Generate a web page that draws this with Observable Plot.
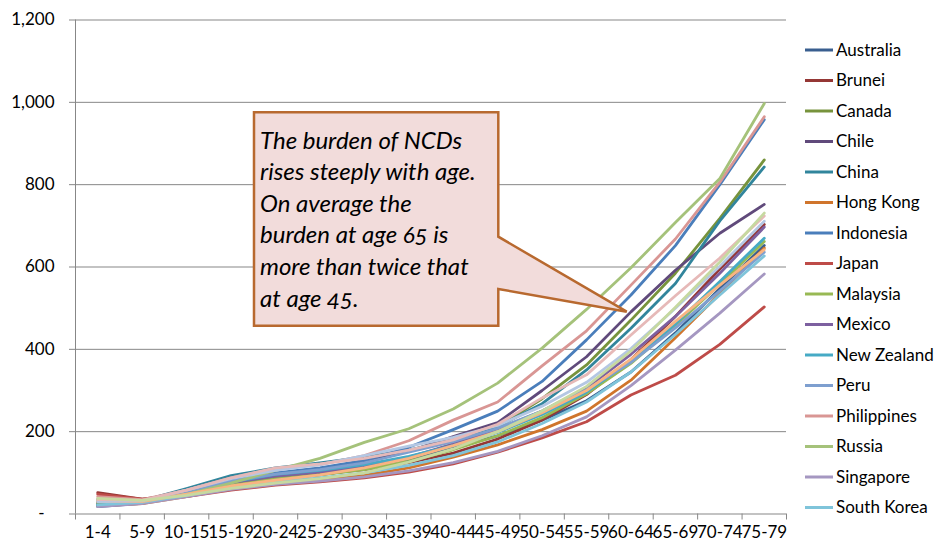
<!DOCTYPE html>
<html><head><meta charset="utf-8">
<script src="https://cdn.jsdelivr.net/npm/d3@7"></script>
<script src="https://cdn.jsdelivr.net/npm/@observablehq/plot@0.6"></script>
<style>body{margin:0;background:#fff;} svg{display:block}</style>
</head><body><div id="chart"></div>
<script>
const ageGroups = ["1-4","5-9","10-15","15-19","20-24","25-29","30-34","35-39","40-44","45-49","50-54","55-59","60-64","65-69","70-74","75-79"];
const countries = ["Australia","Brunei","Canada","Chile","China","Hong Kong","Indonesia","Japan","Malaysia","Mexico","New Zealand","Peru","Philippines","Russia","Singapore","South Korea","Taiwan","Thailand","United States","Vietnam"];
const legendCount = 16;
const colors = ["#395E8F","#953735","#77933C","#604A7B","#31859C","#D0752C","#4A7EBB","#BE4B48","#98B954","#7D60A0","#46AAC5","#7E9FCF","#D99694","#A5C27A","#A597C1","#7FC4DA","#F9B482","#B4C7E3","#E6B9B8","#C6D9A0"];
const yTicks = [0,200,400,600,800,1000,1200];
const calloutLines = ["The burden of NCDs","rises steeply with age.","On average the","burden at age 65 is","more than twice that","at age 45."];

const australia    = [18,26,46,68,84,95,110,132,160,190,228,275,345,440,548,652];
const brunei       = [52,36,50,70,86,96,108,125,148,182,228,290,375,480,595,703];
const canada       = [26,29,50,72,88,98,112,135,170,212,280,362,471,585,718,860];
const chile        = [28,31,52,76,96,110,128,152,188,222,300,382,491,592,682,752];
const china        = [24,32,62,93,112,124,138,155,180,212,268,350,451,560,712,843];
const hongKong     = [20,25,42,62,76,83,94,112,138,168,205,250,325,428,535,646];
const indonesia    = [22,30,56,84,100,112,130,162,205,250,322,423,532,652,800,958];
const japan        = [48,36,42,58,70,78,88,102,122,150,185,224,289,337,412,503];
const malaysia     = [28,30,48,70,85,95,108,128,156,190,234,292,366,458,558,662];
const mexico       = [30,32,52,76,92,102,116,138,170,206,250,306,388,480,585,697];
const newZealand   = [20,28,52,78,96,106,120,140,166,198,242,296,372,462,565,670];
const peru         = [36,32,55,80,97,108,124,150,176,208,250,302,368,452,542,636];
const philippines  = [42,35,58,88,110,120,142,178,228,272,360,445,556,668,806,965];
const russia       = [34,30,48,75,106,135,174,207,255,318,403,497,598,708,815,997];
const singapore    = [18,25,42,60,72,80,90,105,125,152,190,236,312,398,488,583];
const southKorea   = [22,28,45,65,78,88,100,118,142,175,220,272,345,436,532,627];
const taiwan       = [30,30,48,68,82,95,112,135,166,200,246,300,376,468,556,642];
const thailand     = [30,32,58,86,106,120,142,165,186,215,262,320,402,500,602,711];
const unitedStates = [35,33,58,88,112,122,135,155,180,218,282,338,435,530,622,724];
const vietnam      = [38,33,45,62,75,86,100,126,158,200,250,310,396,502,612,731];

const seriesList = [australia,brunei,canada,chile,china,hongKong,indonesia,japan,malaysia,mexico,newZealand,peru,philippines,russia,singapore,southKorea,taiwan,thailand,unitedStates,vietnam];

const rows = [];
countries.forEach((c, k) => seriesList[k].forEach((v, i) => rows.push({country: c, i, value: v})));

const font = "Lato, 'Open Sans', sans-serif";
const grid = "#878787";
const boundaries = d3.range(ageGroups.length + 1).map(i => i - 0.5);

const chart = Plot.plot({
  width: 935, height: 545,
  marginLeft: 75, marginRight: 149, marginTop: 19.5, marginBottom: 31.5,
  style: {fontFamily: font, fontSize: "17px", color: "#000", background: "#fff", overflow: "visible"},
  x: {domain: [-0.5, ageGroups.length - 0.5], axis: null},
  y: {domain: [0, 1200], axis: null},
  color: {domain: countries, range: colors},
  marks: [
    Plot.gridY(yTicks.filter(d => d > 0), {stroke: grid, strokeOpacity: 1}),
    Plot.axisY(yTicks, {tickSize: 6, tickPadding: 15, stroke: grid, fill: "#000", fontSize: 17, label: null,
      tickFormat: d => d === 0 ? "-\u2007" : d3.format(",")(d)}),
    Plot.ruleY([0], {stroke: grid}),
    Plot.ruleX([-0.5], {stroke: grid}),
    Plot.axisX(boundaries, {tickSize: 6, stroke: grid, label: null, tickFormat: () => ""}),
    Plot.axisX(d3.range(ageGroups.length), {tickSize: 0, tickPadding: 12, fill: "#000", fontSize: 17, label: null,
      tickFormat: i => ageGroups[i]}),
    Plot.line(rows, {x: "i", y: "value", z: "country", stroke: "country", strokeWidth: 2.8, strokeLinejoin: "round"})
  ]
});
document.getElementById("chart").appendChild(chart);

const svg = d3.select(chart);
// Legend
const lg = svg.append("g").attr("font-family", font).attr("font-size", 17).attr("text-anchor", "start");
countries.slice(0, legendCount).forEach((c, k) => {
  const y = 50 + k * 30.5;
  lg.append("line").attr("x1", 805).attr("x2", 833).attr("y1", y).attr("y2", y)
    .attr("stroke", colors[k]).attr("stroke-width", 3);
  lg.append("text").attr("x", 836).attr("y", y).attr("dy", "0.35em").attr("fill", "#000").text(c);
});

// Callout
const cg = svg.append("g");
cg.append("path")
  .attr("d", "M254,112.3 H498.3 V236.7 L626.7,311.7 L498.3,289 V325.7 H254 Z")
  .attr("fill", "#F2DCDB").attr("stroke", "#B8692F").attr("stroke-width", 2.5).attr("stroke-linejoin", "miter");
const ct = cg.append("text").attr("font-family", font).attr("font-style", "italic").attr("text-anchor", "start")
  .attr("font-size", 24).attr("fill", "#000").style("font-variant-numeric", "oldstyle-nums");
calloutLines.forEach((t, k) => {
  ct.append("tspan").attr("x", 260).attr("y", 148.5 + k * 31.6).text(t);
});
</script>
</body></html>
